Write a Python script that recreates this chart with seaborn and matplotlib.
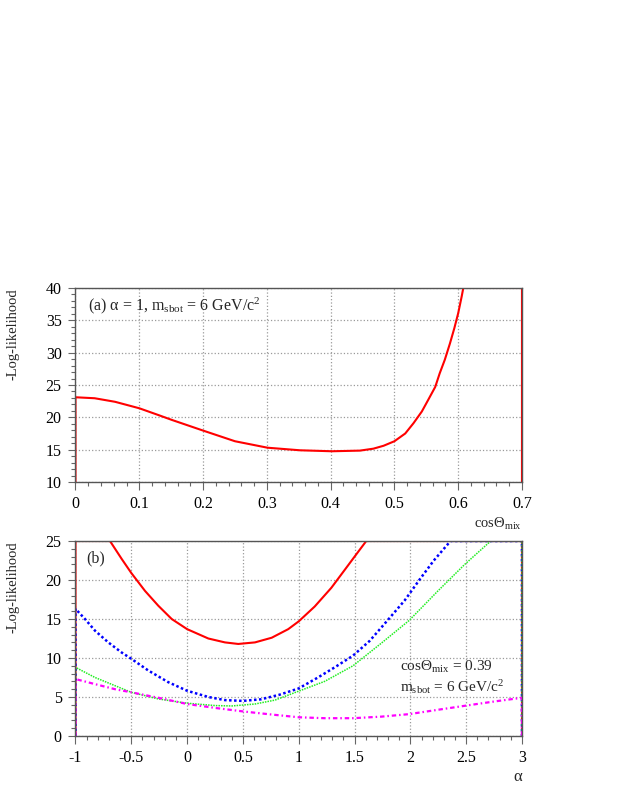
import matplotlib
matplotlib.use("Agg")
import matplotlib.pyplot as plt
import pandas as pd
import seaborn as sns
from matplotlib.ticker import MultipleLocator, FuncFormatter

sns.set_style("ticks")
plt.rcParams["font.family"] = ["Liberation Serif", "DejaVu Serif"]
plt.rcParams["mathtext.fontset"] = "custom"
plt.rcParams["mathtext.rm"] = "Liberation Serif"
plt.rcParams["mathtext.it"] = "Liberation Serif:italic"

# (a) -log-likelihood vs cos(theta_mix); the curve runs along the frame where it is clipped
cos_mix = [0.0, 0.0, 0.03, 0.062, 0.1, 0.13, 0.151, 0.2, 0.25, 0.301, 0.352, 0.402,
           0.446, 0.467, 0.483, 0.5, 0.517, 0.53, 0.543, 0.553, 0.564, 0.571, 0.579,
           0.587, 0.594, 0.6, 0.6055, 0.608, 0.7, 0.7]
nll_a = [10.0, 23.1, 22.95, 22.4, 21.4, 20.35, 19.6, 17.95, 16.3, 15.3, 14.9, 14.75,
         14.85, 15.15, 15.6, 16.3, 17.5, 19.1, 20.9, 22.7, 24.7, 26.8, 28.9,
         31.4, 33.8, 36.1, 38.7, 40.0, 40.0, 10.0]

# (b) -log-likelihood vs alpha, four curves
alpha_red = [-1.0, -1.0, -0.691, -0.586, -0.5, -0.377, -0.258, -0.138, 0.0, 0.19, 0.339,
             0.458, 0.608, 0.758, 0.906, 1.0, 1.143, 1.292, 1.412, 1.516, 1.605, 3.0, 3.0]
nll_red = [0.0, 25.0, 25.0, 22.7, 20.9, 18.6, 16.7, 15.0, 13.7, 12.5, 12.0,
           11.8, 12.0, 12.6, 13.7, 14.7, 16.6, 19.0, 21.3, 23.3, 25.0, 25.0, 0.0]

alpha_blue = [-1.0, -1.0, -0.915, -0.825, -0.706, -0.586, -0.5, -0.348, -0.169, 0.0, 0.19,
              0.339, 0.5, 0.66, 0.83, 1.0, 1.172, 1.322, 1.486, 1.636, 1.8, 1.95, 2.08,
              2.21, 2.36, 3.0, 3.0]
nll_blue = [0.0, 16.3, 15.0, 13.5, 12.0, 10.7, 9.9, 8.4, 6.9, 5.8, 5.0,
            4.6, 4.5, 4.7, 5.3, 6.1, 7.5, 8.8, 10.3, 12.2, 14.9, 17.4, 20.0,
            22.5, 25.0, 25.0, 0.0]

alpha_green = [-1.0, -1.0, -0.825, -0.646, -0.5, -0.258, 0.0, 0.25, 0.4, 0.608, 0.787,
               1.0, 1.232, 1.486, 1.74, 1.988, 2.247, 2.487, 2.72, 3.0, 3.0]
nll_green = [0.0, 8.8, 7.5, 6.45, 5.6, 4.75, 4.2, 3.9, 3.85, 4.1, 4.6,
             5.75, 7.0, 9.0, 11.9, 14.8, 18.6, 22.0, 25.0, 25.0, 0.0]

alpha_mag = [-1.0, -1.0, -0.825, -0.646, -0.5, -0.258, 0.0, 0.25, 0.5, 0.758, 1.0,
             1.232, 1.486, 1.74, 1.988, 2.247, 2.487, 2.755, 3.0, 3.0]
nll_mag = [0.0, 7.3, 6.65, 6.0, 5.6, 4.9, 4.1, 3.6, 3.15, 2.75, 2.4,
           2.28, 2.28, 2.48, 2.8, 3.36, 3.87, 4.43, 4.9, 0.0]

df_a = pd.DataFrame({"cos_mix": cos_mix, "nll": nll_a})

fig = plt.figure(figsize=(6.27, 8.11), dpi=100)
ax1 = fig.add_axes([0.1204, 0.4057, 0.7121, 0.2392])
ax2 = fig.add_axes([0.1204, 0.0925, 0.7121, 0.2404])

fmt = FuncFormatter(lambda v, p: f"{v:g}")


def style_axes(ax):
    ax.grid(True, which="major", linestyle=":", color="#9a9a9a", linewidth=0.9)
    ax.set_axisbelow(True)
    for s in ax.spines.values():
        s.set_color("#555555")
        s.set_linewidth(1.0)
    ax.tick_params(which="major", direction="out", length=5.4, width=0.8,
                   color="#666666", labelsize=11.5, pad=4.5, labelcolor="black")
    ax.tick_params(which="minor", direction="out", length=3, width=0.8, color="#666666")
    ax.xaxis.set_major_formatter(fmt)


# top panel
sns.lineplot(data=df_a, x="cos_mix", y="nll", sort=False, estimator=None, ax=ax1,
             color="red", linewidth=1.5)
ax1.set_xlim(0, 0.7)
ax1.set_ylim(10, 40)
ax1.xaxis.set_major_locator(MultipleLocator(0.1))
ax1.xaxis.set_minor_locator(MultipleLocator(0.02))
ax1.yaxis.set_major_locator(MultipleLocator(5))
ax1.yaxis.set_minor_locator(MultipleLocator(1))
style_axes(ax1)
ax1.set_xlabel(r"cos$\Theta_{\mathrm{mix}}$", fontsize=10.5, loc="right")
ax1.xaxis.set_label_coords(1.0, -0.175)
ax1.set_ylabel("-Log-likelihood", fontsize=10.5, loc="top")
ax1.yaxis.set_label_coords(-0.125, 1.0)
ax1.text(0.027, 0.91, r"(a) α = 1, m$_{\mathrm{sbot}}$ = 6 GeV/c$^{2}$",
         transform=ax1.transAxes, fontsize=11.5, va="center", ha="left")

# bottom panel
sns.lineplot(x=alpha_red, y=nll_red, sort=False, estimator=None, ax=ax2,
             color="red", linewidth=1.5)
sns.lineplot(x=alpha_blue, y=nll_blue, sort=False, estimator=None, ax=ax2,
             color="blue", linewidth=1.8, linestyle=(0, (1, 1)))
sns.lineplot(x=alpha_green, y=nll_green, sort=False, estimator=None, ax=ax2,
             color="#22ee22", linewidth=1.1, linestyle=(0, (1, 0.7)))
sns.lineplot(x=alpha_mag, y=nll_mag, sort=False, estimator=None, ax=ax2,
             color="magenta", linewidth=1.6, linestyle=(0, (2, 1.3, 0.7, 1.3)))
ax2.set_xlim(-1, 3)
ax2.set_ylim(0, 25)
ax2.xaxis.set_major_locator(MultipleLocator(0.5))
ax2.xaxis.set_minor_locator(MultipleLocator(0.1))
ax2.yaxis.set_major_locator(MultipleLocator(5))
ax2.yaxis.set_minor_locator(MultipleLocator(1))
style_axes(ax2)
ax2.set_xlabel("α", fontsize=12, loc="right")
ax2.xaxis.set_label_coords(1.0, -0.17)
ax2.set_ylabel("-Log-likelihood", fontsize=10.5, loc="top")
ax2.yaxis.set_label_coords(-0.125, 1.0)
ax2.text(0.025, 0.91, "(b)", transform=ax2.transAxes, fontsize=11.5, va="center", ha="left")
ax2.text(0.727, 0.355, r"cos$\Theta_{\mathrm{mix}}$ = 0.39", transform=ax2.transAxes,
         fontsize=11, va="center", ha="left")
ax2.text(0.727, 0.25, r"m$_{\mathrm{sbot}}$ = 6 GeV/c$^{2}$", transform=ax2.transAxes,
         fontsize=11, va="center", ha="left")

fig.savefig("out.png", dpi=100)
